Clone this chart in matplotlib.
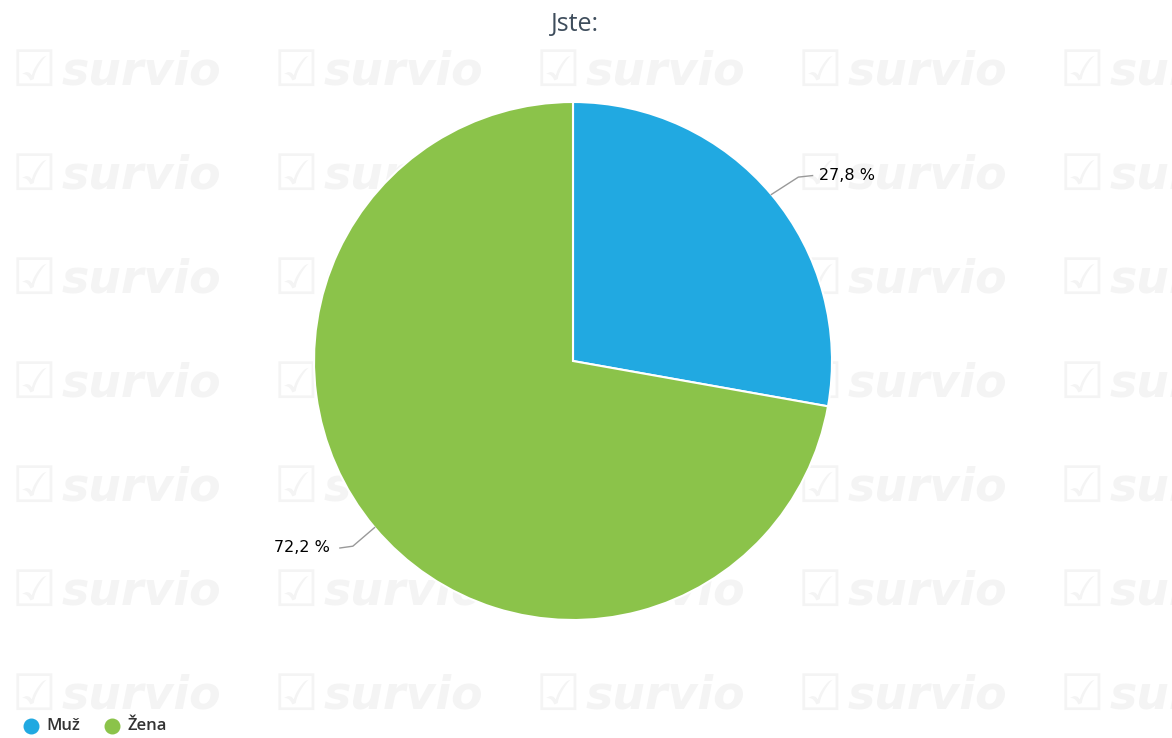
import matplotlib.pyplot as plt

title = "Jste:"
labels = ["Muž", "Žena"]
shares = [27.8, 72.2]
colors = ["#21a9e1", "#8bc34a"]
value_texts = ["27,8 %", "72,2 %"]

fig = plt.figure(figsize=(11.72, 7.38), dpi=100)
fig.patch.set_facecolor("white")

# pozadi v pixelech: vodoznaky "survio" a legenda
bg = fig.add_axes([0, 0, 1, 1], zorder=-1)
bg.set_xlim(0, 1172)
bg.set_ylim(738, 0)
bg.axis("off")
for row in range(7):
    for col in range(5):
        bg.text(12 + col * 262, 72 + row * 104, "☑", fontsize=36, color="#f4f4f4",
                ha="left", va="center", family="DejaVu Sans", clip_on=True)
        bg.text(62 + col * 262, 72 + row * 104, "survio", fontsize=33,
                fontweight="bold", style="italic", color="#f4f4f4",
                ha="left", va="center", family="DejaVu Sans", clip_on=True)

ax = fig.add_axes([314 / 1172, 1 - 620 / 738, 518 / 1172, 518 / 738], zorder=1)
ax.set_facecolor("none")
wedges, _ = ax.pie(shares, colors=colors, startangle=90, counterclock=False,
                   radius=1, wedgeprops=dict(edgecolor="white", linewidth=1.5))
ax.set_xlim(-1, 1)
ax.set_ylim(-1, 1)
ax.set_aspect("equal")
ax.axis("off")

# popisky s vodici carou
ax.plot([0.766, 0.87, 0.925], [0.643, 0.71, 0.716], color="#999999", lw=1, clip_on=False)
ax.text(0.95, 0.716, value_texts[0], ha="left", va="center", fontsize=11.5,
        color="black", family="DejaVu Sans")
ax.plot([-0.766, -0.85, -0.9], [-0.643, -0.715, -0.722], color="#999999", lw=1, clip_on=False)
ax.text(-0.94, -0.722, value_texts[1], ha="right", va="center", fontsize=11.5,
        color="black", family="DejaVu Sans")

fig.text(575 / 1172, 1 - 24 / 738, title, ha="center", va="center", fontsize=18,
         color="#3e4d5c", family="Open Sans")

# legenda
leg_x = [31, 112]
for lx, lab, c in zip(leg_x, labels, colors):
    bg.scatter([lx], [726], s=110, color=c, clip_on=False)
    bg.text(lx + 15, 726, lab, ha="left", va="center", fontsize=12,
            fontweight="semibold", color="#333333", family="Open Sans")

fig.savefig("out.png", dpi=100)
